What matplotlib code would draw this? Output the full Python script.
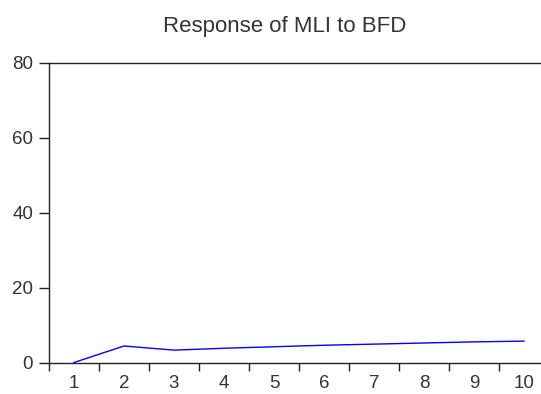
import matplotlib
matplotlib.use("Agg")
import matplotlib.pyplot as plt
import numpy as np

periods = [1, 2, 3, 4, 5, 6, 7, 8, 9, 10]
response = [0.0, 4.4, 3.3, 3.8, 4.2, 4.6, 4.9, 5.2, 5.5, 5.7]
y_ticks = [0, 20, 40, 60, 80]
title = "Response of MLI to BFD"

plt.rcParams['font.family'] = ['Liberation Sans', 'DejaVu Sans']

W, H = 541, 394
fig = plt.figure(figsize=(W/100, H/100), dpi=100)
ax = fig.add_axes([49/W, (H-362.5)/H, 500/W, 300/H])
ax.plot(periods, response, color='#0000ff', linewidth=1.0)
ax.set_xlim(0.5, 10.5)
ax.set_ylim(0, 80)
ax.set_yticks(y_ticks)
ax.set_xticks(np.arange(0.5, 10.5, 1.0))
ax.set_xticklabels([])
ax.set_xticks(periods, minor=True)
ax.set_xticklabels([str(p) for p in periods], minor=True)
ax.tick_params(axis='x', which='major', direction='out', length=6, width=1, color='#222222')
ax.tick_params(axis='x', which='minor', length=0, pad=9, labelsize=13.5, labelcolor='#333333')
ax.tick_params(axis='y', direction='out', length=7, width=1, color='#222222', labelsize=13.5, labelcolor='#333333', pad=4.5)
for s in ['left', 'bottom', 'top']:
    ax.spines[s].set_color('#222222')
    ax.spines[s].set_linewidth(1.0)
ax.spines['right'].set_visible(False)
fig.text(285/W, (H-31.7)/H, title, ha='center', va='baseline', fontsize=16, color='#333333')
fig.savefig('out.png', dpi=100)
